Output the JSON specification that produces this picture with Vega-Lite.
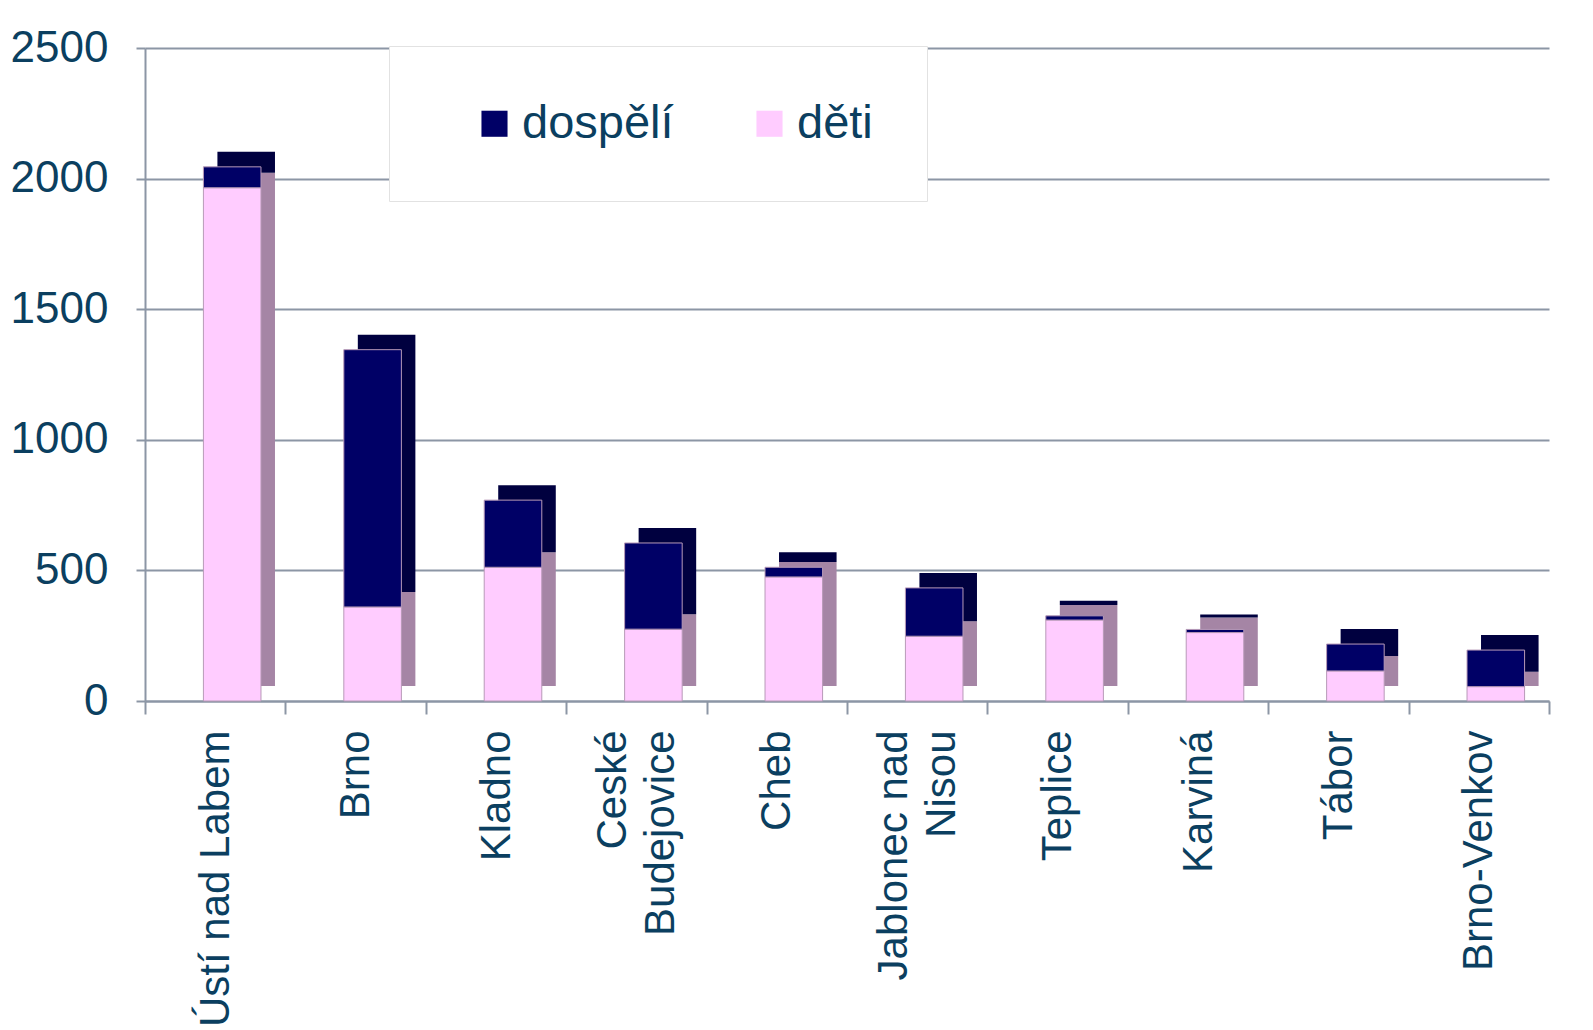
{
  "$schema": "https://vega.github.io/schema/vega-lite/v6.json",
  "autosize": "none",
  "width": 1404,
  "height": 653,
  "padding": {"left": 145, "top": 48, "right": 44, "bottom": 329},
  "background": "white",
  "config": {
    "view": {"stroke": null},
    "font": "Liberation Sans",
    "axis": {"labelFont": "Liberation Sans", "labelColor": "#0b3f60", "domainColor": "#8c96a5", "tickColor": "#8c96a5", "gridColor": "#8c96a5", "domainWidth": 2, "tickWidth": 2, "gridWidth": 2}
  },
  "data": {
    "values": [
      {"mesto": "Ústí nad Labem", "skupina": "děti", "pocet": 1965},
      {"mesto": "Ústí nad Labem", "skupina": "dospělí", "pocet": 80},
      {"mesto": "Brno", "skupina": "děti", "pocet": 360},
      {"mesto": "Brno", "skupina": "dospělí", "pocet": 985},
      {"mesto": "Kladno", "skupina": "děti", "pocet": 512},
      {"mesto": "Kladno", "skupina": "dospělí", "pocet": 257},
      {"mesto": "Ceské Budejovice", "skupina": "děti", "pocet": 275},
      {"mesto": "Ceské Budejovice", "skupina": "dospělí", "pocet": 330},
      {"mesto": "Cheb", "skupina": "děti", "pocet": 475},
      {"mesto": "Cheb", "skupina": "dospělí", "pocet": 37},
      {"mesto": "Jablonec nad Nisou", "skupina": "děti", "pocet": 248},
      {"mesto": "Jablonec nad Nisou", "skupina": "dospělí", "pocet": 185},
      {"mesto": "Teplice", "skupina": "děti", "pocet": 310},
      {"mesto": "Teplice", "skupina": "dospělí", "pocet": 16},
      {"mesto": "Karviná", "skupina": "děti", "pocet": 262},
      {"mesto": "Karviná", "skupina": "dospělí", "pocet": 12},
      {"mesto": "Tábor", "skupina": "děti", "pocet": 115},
      {"mesto": "Tábor", "skupina": "dospělí", "pocet": 103},
      {"mesto": "Brno-Venkov", "skupina": "děti", "pocet": 55},
      {"mesto": "Brno-Venkov", "skupina": "dospělí", "pocet": 140}
    ]
  },
  "encoding": {
    "x": {
      "field": "mesto", "type": "nominal",
      "sort": ["Ústí nad Labem", "Brno", "Kladno", "Ceské Budejovice", "Cheb", "Jablonec nad Nisou", "Teplice", "Karviná", "Tábor", "Brno-Venkov"],
      "scale": {"paddingInner": 0, "paddingOuter": 0},
      "axis": {
        "title": null, "labelAngle": 270, "labelAlign": "right", "labelBaseline": "middle",
        "labelFontSize": 42, "labelPadding": 16, "tickSize": 13, "tickBand": "extent",
        "labelLimit": 400, "labelLineHeight": 48,
        "labelOffset": {"condition": {"test": "datum.value == 'Ceské Budejovice' || datum.value == 'Jablonec nad Nisou'", "value": -24}, "value": 0},
        "labelExpr": "datum.value == 'Ceské Budejovice' ? ['Ceské', 'Budejovice'] : datum.value == 'Jablonec nad Nisou' ? ['Jablonec nad', 'Nisou'] : datum.value"
      }
    },
    "y": {
      "field": "pocet", "type": "quantitative", "aggregate": "sum", "stack": "zero",
      "scale": {"domain": [0, 2500], "nice": false},
      "axis": {"title": null, "values": [0, 500, 1000, 1500, 2000, 2500], "format": "d", "labelFontSize": 44, "labelPadding": 28, "tickSize": 9, "grid": true}
    },
    "order": {"field": "skupina", "sort": "descending"}
  },
  "layer": [
    {
      "mark": {"type": "bar", "width": {"band": 0.41}, "xOffset": 31, "x2Offset": 31, "yOffset": -15, "y2Offset": -15},
      "encoding": {
        "color": {"field": "skupina", "type": "nominal", "legend": null,
          "scale": {"domain": ["dospělí", "děti"], "range": ["#00003f", "#a585a5"]}}
      }
    },
    {
      "mark": {"type": "bar", "width": {"band": 0.41}, "xOffset": 17, "x2Offset": 17, "stroke": "#b89ab8", "strokeWidth": 1},
      "encoding": {
        "color": {"field": "skupina", "type": "nominal",
          "scale": {"domain": ["dospělí", "děti"], "range": ["#000066", "#ffccff"]},
          "legend": {
            "title": null, "orient": "none", "legendX": 244, "legendY": -2, "direction": "horizontal",
            "fillColor": "white", "strokeColor": "#e2e2e2", "padding": 54,
            "symbolType": "square", "symbolSize": 680, "symbolStrokeWidth": 0,
            "labelFontSize": 47, "labelColor": "#0b3f60", "labelFont": "Liberation Sans",
            "columnPadding": 44, "symbolOffset": 28, "labelOffset": 4
          }
        }
      }
    }
  ],
  "resolve": {"scale": {"color": "independent"}}
}
